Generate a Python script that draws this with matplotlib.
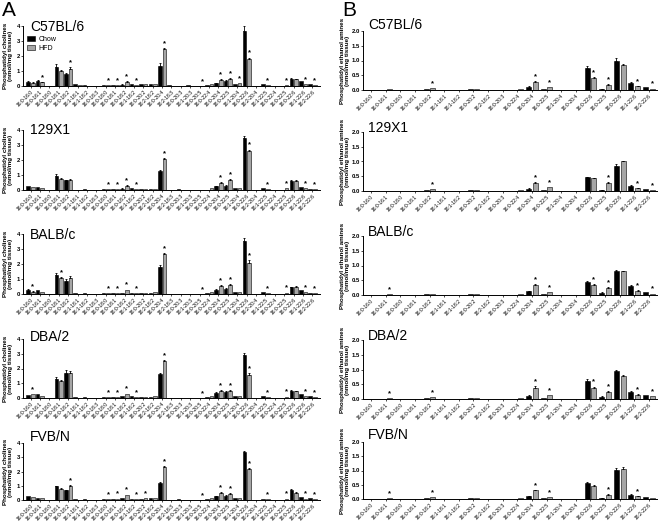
import matplotlib
matplotlib.use("Agg")
import matplotlib.pyplot as plt
import matplotlib.patches as mpatches
import numpy as np

plt.rcParams["font.family"] = ["Liberation Sans", "DejaVu Sans"]

# ---- data -------------------------------------------------------
strains = ["C57BL/6", "129X1", "BALB/c", "DBA/2", "FVB/N"]

pc_species = ["16:0-16:0", "16:0-16:1", "16:0-18:0", "16:0-18:1", "16:0-18:2",
              "18:1-18:1", "16:1-18:2", "16:0-18:3", "18:0-18:0", "18:0-18:1",
              "18:0-18:2", "18:1-18:2", "18:0-20:2", "18:2-18:2", "16:0-20:4",
              "18:2-18:3", "18:0-20:3", "18:1-20:3", "16:0-20:5", "16:0-22:4",
              "18:0-20:4", "18:0-22:5", "18:1-20:4", "16:0-22:6", "18:2-20:4",
              "18:1-22:5", "18:0-22:4", "16:0-22:5", "18:0-22:6", "18:1-22:6",
              "18:2-22:6"]

pe_species = ["16:0-16:0", "16:0-16:1", "16:0-18:0", "16:0-18:1", "16:0-18:2",
              "18:1-18:1", "18:1-18:2", "18:0-20:2", "18:2-18:2", "18:0-20:3",
              "16:0-22:4", "16:0-20:4", "16:0-22:5", "18:1-20:4", "18:0-20:4",
              "16:0-22:6", "18:0-22:5", "18:0-22:6", "18:1-22:6", "18:2-22:6"]

pc_chow = {
    "C57BL/6": [0.30, 0.35, 0.00, 1.30, 0.80, 0.12, 0.08, 0.00, 0.05, 0.05, 0.10, 0.15, 0.12, 0.12, 1.35, 0.05,
                0.00, 0.05, 0.00, 0.10, 0.20, 0.35, 0.12, 3.70, 0.02, 0.15, 0.00, 0.02, 0.50, 0.32, 0.12],
    "129X1":   [0.30, 0.18, 0.00, 0.95, 0.65, 0.02, 0.04, 0.00, 0.08, 0.08, 0.10, 0.12, 0.05, 0.10, 1.25, 0.00,
                0.04, 0.01, 0.00, 0.02, 0.25, 0.30, 0.12, 3.45, 0.02, 0.12, 0.00, 0.02, 0.60, 0.22, 0.10],
    "BALB/c":  [0.30, 0.25, 0.00, 1.30, 0.90, 0.10, 0.05, 0.00, 0.05, 0.05, 0.10, 0.10, 0.08, 0.10, 1.80, 0.02,
                0.02, 0.02, 0.00, 0.05, 0.30, 0.35, 0.12, 3.55, 0.02, 0.15, 0.00, 0.02, 0.45, 0.25, 0.10],
    "DBA/2":   [0.20, 0.30, 0.00, 1.30, 1.70, 0.08, 0.05, 0.00, 0.05, 0.05, 0.12, 0.12, 0.08, 0.10, 1.60, 0.02,
                0.02, 0.02, 0.00, 0.08, 0.35, 0.40, 0.12, 2.90, 0.02, 0.15, 0.00, 0.02, 0.50, 0.30, 0.12],
    "FVB/N":   [0.25, 0.15, 0.00, 0.95, 0.70, 0.05, 0.05, 0.00, 0.05, 0.08, 0.12, 0.08, 0.10, 0.12, 1.20, 0.02,
                0.08, 0.00, 0.00, 0.05, 0.25, 0.30, 0.12, 3.35, 0.02, 0.10, 0.00, 0.02, 0.70, 0.20, 0.12],
}
pc_hfd = {
    "C57BL/6": [0.22, 0.25, 0.00, 1.02, 1.15, 0.05, 0.02, 0.00, 0.05, 0.08, 0.30, 0.08, 0.12, 0.12, 2.45, 0.02,
                0.00, 0.02, 0.02, 0.15, 0.42, 0.50, 0.18, 1.80, 0.02, 0.05, 0.00, 0.08, 0.45, 0.12, 0.05],
    "129X1":   [0.22, 0.15, 0.00, 0.75, 0.70, 0.00, 0.00, 0.00, 0.05, 0.05, 0.30, 0.05, 0.06, 0.10, 2.05, 0.00,
                0.00, 0.00, 0.00, 0.12, 0.50, 0.68, 0.15, 2.60, 0.00, 0.05, 0.00, 0.12, 0.60, 0.12, 0.05],
    "BALB/c":  [0.15, 0.12, 0.00, 1.05, 1.10, 0.03, 0.02, 0.00, 0.05, 0.08, 0.30, 0.08, 0.10, 0.12, 2.65, 0.00,
                0.00, 0.00, 0.02, 0.12, 0.55, 0.60, 0.15, 2.10, 0.00, 0.05, 0.00, 0.10, 0.50, 0.12, 0.05],
    "DBA/2":   [0.25, 0.15, 0.00, 1.15, 1.70, 0.03, 0.02, 0.00, 0.05, 0.08, 0.30, 0.08, 0.10, 0.12, 2.50, 0.00,
                0.00, 0.00, 0.02, 0.12, 0.50, 0.50, 0.15, 1.55, 0.00, 0.05, 0.00, 0.10, 0.45, 0.15, 0.05],
    "FVB/N":   [0.20, 0.12, 0.00, 0.80, 1.00, 0.00, 0.00, 0.00, 0.05, 0.10, 0.38, 0.08, 0.15, 0.12, 2.35, 0.00,
                0.00, 0.00, 0.02, 0.12, 0.50, 0.45, 0.15, 2.20, 0.00, 0.05, 0.00, 0.10, 0.50, 0.10, 0.05],
}
# index -> (chow err, hfd err)
pc_err = {
    "C57BL/6": {0: (0.03, 0.02), 1: (0.03, 0.03), 3: (0.15, 0.05), 4: (0.10, 0.12), 10: (0.02, 0.05),
                14: (0.17, 0.07), 20: (0.02, 0.04), 21: (0.04, 0.05), 23: (0.28, 0.10), 28: (0.05, 0.03)},
    "129X1":   {3: (0.10, 0.04), 4: (0.05, 0.04), 10: (0.02, 0.05), 14: (0.10, 0.08), 20: (0.02, 0.05),
                21: (0.03, 0.06), 23: (0.18, 0.10), 28: (0.05, 0.05)},
    "BALB/c":  {0: (0.05, 0.03), 3: (0.12, 0.06), 4: (0.10, 0.08), 14: (0.12, 0.08), 20: (0.04, 0.05),
                21: (0.05, 0.06), 23: (0.20, 0.15), 28: (0.04, 0.04)},
    "DBA/2":   {3: (0.15, 0.08), 4: (0.18, 0.15), 14: (0.12, 0.10), 20: (0.04, 0.05), 21: (0.05, 0.05),
                23: (0.15, 0.12), 28: (0.04, 0.04)},
    "FVB/N":   {3: (0.03, 0.04), 4: (0.03, 0.06), 14: (0.05, 0.06), 20: (0.03, 0.04), 21: (0.03, 0.04),
                23: (0.08, 0.06), 28: (0.04, 0.04)},
}
pc_stars = {
    "C57BL/6": [1, 4, 8, 9, 10, 11, 14, 18, 20, 21, 22, 23, 25, 27, 29, 30],
    "129X1":   [8, 9, 10, 11, 14, 20, 21, 23, 25, 27, 29, 30],
    "BALB/c":  [0, 3, 8, 9, 10, 11, 14, 18, 20, 21, 23, 25, 27, 29, 30],
    "DBA/2":   [0, 8, 9, 10, 11, 14, 18, 20, 21, 23, 25, 27, 29, 30],
    "FVB/N":   [4, 8, 9, 10, 11, 12, 14, 18, 20, 21, 23, 25, 27, 29, 30],
}

pe_chow = {
    "C57BL/6": [0.01, 0.01, 0.00, 0.00, 0.04, 0.00, 0.01, 0.02, 0.00, 0.00,
                0.01, 0.10, 0.05, 0.01, 0.00, 0.75, 0.04, 1.00, 0.25, 0.10],
    "129X1":   [0.01, 0.01, 0.00, 0.00, 0.03, 0.00, 0.01, 0.02, 0.00, 0.00,
                0.01, 0.08, 0.03, 0.01, 0.00, 0.47, 0.04, 0.85, 0.17, 0.06],
    "BALB/c":  [0.01, 0.01, 0.00, 0.00, 0.02, 0.00, 0.01, 0.02, 0.00, 0.00,
                0.01, 0.12, 0.05, 0.01, 0.00, 0.45, 0.08, 0.80, 0.30, 0.10],
    "DBA/2":   [0.01, 0.01, 0.00, 0.00, 0.03, 0.00, 0.01, 0.02, 0.00, 0.00,
                0.01, 0.10, 0.05, 0.01, 0.00, 0.62, 0.08, 0.95, 0.25, 0.15],
    "FVB/N":   [0.01, 0.01, 0.00, 0.00, 0.03, 0.00, 0.01, 0.02, 0.00, 0.00,
                0.01, 0.10, 0.03, 0.01, 0.00, 0.55, 0.04, 1.02, 0.15, 0.06],
}
pe_hfd = {
    "C57BL/6": [0.01, 0.02, 0.00, 0.01, 0.07, 0.00, 0.01, 0.04, 0.00, 0.00,
                0.02, 0.27, 0.10, 0.01, 0.00, 0.42, 0.18, 0.85, 0.12, 0.05],
    "129X1":   [0.01, 0.01, 0.00, 0.01, 0.06, 0.00, 0.01, 0.04, 0.00, 0.00,
                0.02, 0.27, 0.12, 0.01, 0.00, 0.43, 0.27, 1.00, 0.10, 0.04],
    "BALB/c":  [0.01, 0.03, 0.00, 0.01, 0.05, 0.00, 0.01, 0.04, 0.00, 0.00,
                0.02, 0.35, 0.10, 0.01, 0.00, 0.35, 0.25, 0.80, 0.15, 0.05],
    "DBA/2":   [0.01, 0.03, 0.00, 0.01, 0.06, 0.00, 0.01, 0.04, 0.00, 0.00,
                0.02, 0.38, 0.12, 0.01, 0.00, 0.38, 0.25, 0.78, 0.15, 0.10],
    "FVB/N":   [0.01, 0.02, 0.00, 0.01, 0.08, 0.00, 0.01, 0.03, 0.00, 0.00,
                0.02, 0.30, 0.07, 0.01, 0.00, 0.47, 0.15, 1.05, 0.10, 0.05],
}
pe_err = {
    "C57BL/6": {11: (0.02, 0.03), 15: (0.06, 0.03), 17: (0.07, 0.04), 18: (0.02, 0.02), 16: (0.01, 0.02)},
    "129X1":   {11: (0.01, 0.03), 15: (0.02, 0.02), 17: (0.06, 0.02), 18: (0.02, 0.01), 16: (0.01, 0.02)},
    "BALB/c":  {11: (0.02, 0.03), 15: (0.03, 0.03), 17: (0.04, 0.03), 18: (0.03, 0.02), 16: (0.01, 0.02)},
    "DBA/2":   {11: (0.02, 0.05), 15: (0.07, 0.04), 17: (0.05, 0.05), 18: (0.02, 0.02), 16: (0.01, 0.02)},
    "FVB/N":   {11: (0.01, 0.03), 15: (0.03, 0.02), 17: (0.07, 0.08), 18: (0.01, 0.01), 16: (0.01, 0.02)},
}
pe_stars = {
    "C57BL/6": [4, 11, 12, 15, 16, 18, 19],
    "129X1":   [4, 11, 12, 16, 18, 19],
    "BALB/c":  [1, 11, 12, 15, 16, 18, 19],
    "DBA/2":   [1, 4, 11, 12, 15, 16, 18, 19],
    "FVB/N":   [1, 4, 11, 12, 16, 18],
}

# ---- layout (pixels on a 660x521 canvas) ------------------------
W, H = 660.0, 521.0
a_rows = [(26, 86), (130, 190), (234, 294), (339, 398), (443, 500)]
b_rows = [(31, 90), (132, 191), (236, 295), (340, 399), (442, 499)]
a_title_y = [27, 130, 235, 337, 437]
b_title_y = [25, 128, 232, 336, 435]
GREY = "#a6a6a6"


def rect(x0, x1, top, bot):
    return [x0 / W, 1 - bot / H, (x1 - x0) / W, (bot - top) / H]


def draw_panel(ax, species, chow, hfd, err, stars, off, width, ymax, yticks, yfmt):
    x = np.arange(len(species))
    chow = np.array(chow)
    hfd = np.array(hfd)
    ax.bar(x - off, chow, width, color="black", edgecolor="black", linewidth=0.4, zorder=2)
    ax.bar(x + off, hfd, width, color=GREY, edgecolor="black", linewidth=0.4, zorder=2)
    he = np.zeros(len(x))
    for i, (ec, eh) in err.items():
        he[i] = eh
        for xx, yy, ee in ((i - off, chow[i], ec), (i + off, hfd[i], eh)):
            ax.errorbar(xx, yy, yerr=[[0], [ee]], fmt="none", ecolor="black",
                        elinewidth=0.6, capsize=1.0, capthick=0.6, zorder=3)
    for i in stars:
        ax.text(i + off, hfd[i] + he[i] + ymax * 0.015, "*", ha="center", va="bottom",
                fontsize=5.5, fontweight="bold")
    pad = 0.8 if len(x) > 25 else 0.55
    ax.set_xlim(-pad, len(x) - 1 + pad)
    ax.set_ylim(0, ymax)
    ax.set_yticks(yticks)
    ax.set_yticklabels([yfmt.format(v) for v in yticks], fontsize=4.3, fontweight="bold")
    ax.set_xticks(x)
    ax.set_xticklabels(species, rotation=45, ha="right", rotation_mode="anchor", fontsize=3.6)
    ax.tick_params(axis="both", length=1.5, width=0.5, pad=0.8)
    for s in ("top", "right"):
        ax.spines[s].set_visible(False)
    for s in ("left", "bottom"):
        ax.spines[s].set_linewidth(0.7)


fig = plt.figure(figsize=(6.6, 5.21), dpi=100)

for r, strain in enumerate(strains):
    axa = fig.add_axes(rect(23, 320, *a_rows[r]))
    draw_panel(axa, pc_species, pc_chow[strain], pc_hfd[strain], pc_err[strain],
               pc_stars[strain], 0.25, 0.38, 4, [0, 1, 2, 3, 4], "{:d}")
    axa.set_ylabel("Phosphatidyl cholines\n(nmol/mg tissue)", fontsize=4.5,
                   fontweight="bold", linespacing=1.05)
    axa.yaxis.set_label_coords(-0.033, 0.5)
    fig.text(30 / W, 1 - a_title_y[r] / H, strain, fontsize=10, va="center")

    axb = fig.add_axes(rect(363, 657, *b_rows[r]))
    draw_panel(axb, pe_species, pe_chow[strain], pe_hfd[strain], pe_err[strain],
               pe_stars[strain], 0.23, 0.34, 2, [0.0, 0.5, 1.0, 1.5, 2.0], "{:.1f}")
    axb.set_ylabel("Phosphatidyl ethanol amines\n(nmol/mg tissue)", fontsize=4.5,
                   fontweight="bold", linespacing=1.05)
    axb.yaxis.set_label_coords(-0.045, 0.5)
    fig.text(368 / W, 1 - b_title_y[r] / H, strain, fontsize=10, va="center")

    if r == 0:
        handles = [mpatches.Patch(facecolor="black", edgecolor="black", linewidth=0.4, label="Chow"),
                   mpatches.Patch(facecolor=GREY, edgecolor="black", linewidth=0.4, label="HFD")]
        axa.legend(handles=handles, loc="upper left", bbox_to_anchor=(0.015, 0.84),
                   frameon=False, fontsize=5, handlelength=1.1, handleheight=0.9,
                   labelspacing=0.25, handletextpad=0.5, borderaxespad=0, borderpad=0)

fig.text(2 / W, 1 - 10 / H, "A", fontsize=15, va="center")
fig.text(342 / W, 1 - 10 / H, "B", fontsize=15, va="center")

fig.savefig("out.png", dpi=100)
